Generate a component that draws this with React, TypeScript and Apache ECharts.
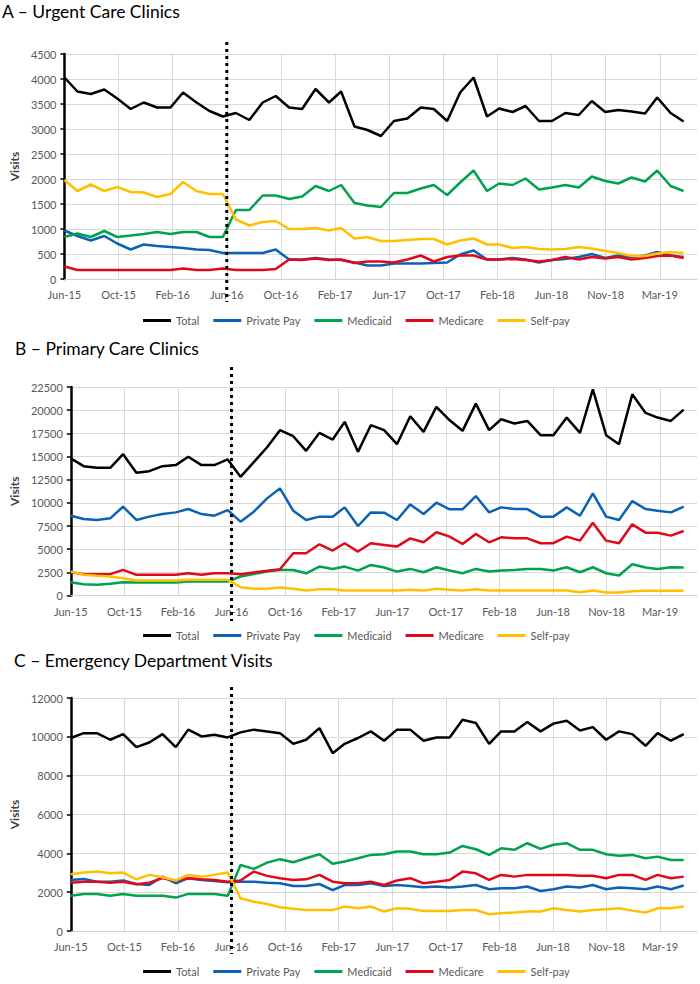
import React, { useEffect, useRef } from 'react';
import * as echarts from 'echarts';

const months = [
  'Jun-15','Jul-15','Aug-15','Sep-15','Oct-15','Nov-15','Dec-15','Jan-16','Feb-16','Mar-16','Apr-16','May-16',
  'Jun-16','Jul-16','Aug-16','Sep-16','Oct-16','Nov-16','Dec-16','Jan-17','Feb-17','Mar-17','Apr-17','May-17',
  'Jun-17','Jul-17','Aug-17','Sep-17','Oct-17','Nov-17','Dec-17','Jan-18','Feb-18','Mar-18','Apr-18','May-18',
  'Jun-18','Jul-18','Aug-18','Sep-18','Oct-18','Nov-18','Dec-18','Jan-19','Feb-19','Mar-19','Apr-19','May-19',
];
const tickLabels = ['Jun-15','Oct-15','Feb-16','Jun-16','Oct-16','Feb-17','Jun-17','Oct-17','Feb-18','Jun-18','Nov-18','Mar-19'];
const tickStepDays = 125;
const interventionLabel = 'Jun-16';
const seriesNames = ['Total', 'Private Pay', 'Medicaid', 'Medicare', 'Self-pay'];

// A – Urgent Care Clinics
const urgentTotal = [4030,3750,3700,3790,3610,3400,3530,3430,3430,3730,3530,3360,3250,3320,3180,3530,3660,3430,3400,3800,3530,3750,3050,2980,2860,3160,3210,3430,3400,3160,3730,4030,3250,3410,3340,3460,3160,3160,3320,3280,3560,3340,3380,3350,3310,3630,3320,3150];
const urgentPrivate = [970,860,770,860,710,590,690,660,640,620,590,580,520,520,520,520,590,390,390,420,390,380,330,270,270,310,310,310,320,330,490,570,390,390,420,390,330,380,400,440,500,420,470,440,470,540,470,440];
const urgentMedicaid = [840,910,840,960,840,870,900,940,900,940,940,840,840,1380,1380,1670,1670,1600,1650,1860,1760,1880,1520,1470,1440,1720,1720,1810,1880,1680,1930,2170,1760,1910,1880,2010,1790,1830,1880,1830,2050,1960,1910,2030,1950,2170,1860,1760];
const urgentMedicare = [250,180,180,180,180,180,180,180,180,210,180,180,210,180,180,180,200,390,380,410,380,390,320,350,350,330,390,470,350,440,470,470,390,390,400,380,350,380,440,390,440,410,440,390,420,460,470,420];
const urgentSelf = [1980,1760,1890,1760,1840,1740,1730,1640,1700,1940,1760,1700,1700,1190,1070,1140,1160,1000,1000,1020,970,1020,810,840,760,760,780,800,800,690,770,810,690,690,620,640,600,590,600,640,610,560,520,460,460,510,540,520];

// B – Primary Care Clinics
const primaryTotal = [14790,13960,13780,13780,15250,13240,13420,13960,14070,14970,14070,14070,14680,12810,14400,16000,17840,17190,15610,17550,16830,18740,15500,18380,17840,16330,19350,17660,20350,18910,17770,20710,17840,19020,18560,18840,17300,17300,19200,17550,22250,17300,16330,21710,19700,19200,18840,20060];
const primaryPrivate = [8610,8260,8150,8330,9580,8150,8510,8790,8970,9330,8790,8610,9220,7970,9040,10480,11560,9150,8150,8510,8510,9510,7500,8970,8940,8150,9830,8790,10010,9300,9300,10730,8970,9510,9330,9330,8510,8510,9510,8610,11020,8510,8150,10190,9330,9150,8970,9580];
const primaryMedicaid = [1440,1220,1150,1260,1440,1400,1400,1400,1400,1510,1510,1510,1510,2050,2330,2580,2760,2760,2400,3120,2870,3120,2690,3300,3020,2580,2870,2510,3050,2690,2400,2870,2580,2690,2760,2870,2870,2690,3050,2510,3050,2400,2150,3370,3020,2870,3050,3020];
const primaryMedicare = [2510,2300,2300,2300,2760,2230,2230,2230,2230,2410,2230,2410,2410,2300,2480,2660,2840,4560,4560,5530,4850,5640,4740,5640,5460,5280,6170,5740,6820,6350,5560,6640,5740,6280,6170,6170,5640,5640,6350,5920,7860,5920,5640,7680,6780,6780,6460,6960];
const primarySelf = [2580,2230,2120,2050,1870,1620,1620,1620,1620,1690,1690,1690,1690,900,720,720,860,720,540,680,680,540,540,540,540,540,610,540,720,610,540,680,540,540,540,540,540,540,540,360,540,320,320,450,500,500,500,500];

// C – Emergency Department Visits
const edTotal = [9940,10190,10190,9850,10140,9470,9710,10140,9470,10370,10020,10110,9970,10230,10370,10280,10190,9640,9850,10450,9160,9640,9940,10280,9800,10370,10370,9800,9970,9970,10880,10710,9640,10280,10280,10760,10280,10680,10830,10330,10500,9850,10280,10140,9540,10190,9800,10140];
const edPrivate = [2630,2680,2540,2540,2600,2420,2370,2800,2460,2720,2630,2580,2510,2540,2540,2490,2460,2320,2320,2420,2110,2370,2370,2460,2320,2370,2320,2250,2290,2240,2290,2370,2150,2200,2200,2290,2060,2150,2290,2240,2370,2150,2240,2200,2150,2290,2150,2340];
const edMedicaid = [1820,1910,1910,1810,1910,1810,1810,1810,1720,1910,1910,1910,1810,3400,3200,3520,3700,3540,3750,3950,3460,3580,3750,3920,3950,4090,4090,3950,3950,4040,4380,4210,3920,4260,4180,4520,4230,4440,4520,4180,4180,3950,3870,3920,3750,3830,3660,3660];
const edMedicare = [2490,2540,2540,2490,2540,2410,2490,2720,2600,2720,2660,2630,2540,2600,3060,2840,2720,2630,2660,2890,2540,2460,2460,2540,2370,2600,2720,2460,2540,2630,3060,2970,2630,2890,2800,2890,2890,2890,2890,2850,2850,2720,2890,2890,2630,2890,2720,2800];
const edSelf = [2920,3010,3060,2970,3010,2660,2890,2770,2600,2890,2800,2890,3010,1690,1510,1390,1220,1140,1080,1080,1080,1260,1170,1260,1000,1170,1140,1030,1030,1030,1080,1080,860,910,950,1000,1000,1170,1080,1000,1080,1120,1170,1050,950,1170,1170,1260];

const COLORS = ['#000000', '#0A62B4', '#00A24C', '#E2081B', '#FFC000'];
const FONT = 'Lato';

const panels = [
  { title: 'A \u2013 Urgent Care Clinics', data: [urgentTotal, urgentPrivate, urgentMedicaid, urgentMedicare, urgentSelf],
    yMax: 4500, yStep: 500, left: 58, top: 54, height: 225, titleLeft: 2, titleTop: 2, legendTop: 315, divTop: 42, divBottom: 302, nameGap: 44 },
  { title: 'B \u2013 Primary Care Clinics', data: [primaryTotal, primaryPrivate, primaryMedicaid, primaryMedicare, primarySelf],
    yMax: 22500, yStep: 2500, left: 63, top: 387, height: 208.5, titleLeft: 15, titleTop: 339, legendTop: 630, divTop: 367, divBottom: 621, nameGap: 49 },
  { title: 'C \u2013 Emergency Department Visits', data: [edTotal, edPrivate, edMedicaid, edMedicare, edSelf],
    yMax: 12000, yStep: 2000, left: 62.5, top: 698, height: 233, titleLeft: 14, titleTop: 651, legendTop: 966, divTop: 687, divBottom: 954, nameGap: 48 },
];

const dayOffsets = months.map((_, i) => (Date.UTC(2015, 5 + i, 1) - Date.UTC(2015, 5, 1)) / 86400000);
const xMaxDay = (Date.UTC(2015, 5 + months.length, 1) - Date.UTC(2015, 5, 1)) / 86400000;

export default function App() {
  const ref = useRef<HTMLDivElement>(null);
  useEffect(() => {
    if (!ref.current) return;
    const chart = echarts.init(ref.current, null, { renderer: 'svg' });
    const grid: any[] = [];
    const xAxis: any[] = [];
    const yAxis: any[] = [];
    const series: any[] = [];
    const title: any[] = [];
    const legend: any[] = [];
    panels.forEach((p, k) => {
      grid.push({ left: p.left, top: p.top, width: 697 - p.left, height: p.height });
      xAxis.push({
        type: 'value', gridIndex: k, min: 0, max: xMaxDay, interval: tickStepDays,
        axisLine: { show: true, lineStyle: { color: '#d0d0d0', width: 1 } },
        axisTick: { show: false },
        axisLabel: {
          showMaxLabel: false, margin: 10, color: '#595959', fontSize: 11, fontFamily: FONT,
          formatter: (v: number) => (v % tickStepDays === 0 ? tickLabels[v / tickStepDays] || '' : ''),
        },
        splitLine: { show: true, showMaxLine: false, lineStyle: { color: '#d9d9d9', width: 1 } },
      });
      yAxis.push({
        type: 'value', gridIndex: k, min: 0, max: p.yMax, interval: p.yStep,
        name: 'Visits', nameLocation: 'middle', nameGap: p.nameGap,
        nameTextStyle: { color: '#404040', fontSize: 12, fontWeight: 'bold', fontFamily: FONT },
        axisLine: { show: true, lineStyle: { color: '#000', width: 2.5 } },
        axisTick: { show: true, length: 4, lineStyle: { color: '#000', width: 1.5 } },
        axisLabel: { margin: 8, color: '#595959', fontSize: 11, fontFamily: FONT, formatter: (v: number) => String(v) },
        splitLine: { show: true, lineStyle: { color: '#d9d9d9', width: 1 } },
      });
      p.data.forEach((vals, j) => {
        series.push({
          type: 'line', name: seriesNames[j], xAxisIndex: k, yAxisIndex: k,
          data: vals.map((v, i) => [dayOffsets[i], v]),
          showSymbol: false, symbol: 'none',
          lineStyle: { color: COLORS[j], width: 2.5 }, itemStyle: { color: COLORS[j] },
          z: 2 + j,
        });
      });
      title.push({
        text: p.title, left: p.titleLeft, top: p.titleTop, padding: 0,
        textStyle: { fontFamily: FONT, fontSize: 17.5, fontWeight: 'normal', color: '#000' },
      });
      legend.push({
        data: seriesNames, left: 143, top: p.legendTop, padding: 0, itemWidth: 28, itemHeight: 3, itemGap: 14,
        icon: 'rect', textStyle: { fontFamily: FONT, fontSize: 11, color: '#595959' },
      });
    });
    chart.setOption({ animation: false, grid, xAxis, yAxis, series, title, legend });
    const divDay = tickLabels.indexOf(interventionLabel) * tickStepDays;
    const graphic = panels.map((p, k) => {
      const px = chart.convertToPixel({ xAxisIndex: k }, divDay) as number;
      return {
        type: 'line', z: 100,
        shape: { x1: px, y1: p.divTop, x2: px, y2: p.divBottom },
        style: { stroke: '#000', lineWidth: 3, lineDash: [3, 4] },
      };
    });
    chart.setOption({ graphic });
    return () => chart.dispose();
  }, []);
  return <div ref={ref} style={{ position: 'absolute', left: 0, top: 0, width: 700, height: 984 }} />;
}
